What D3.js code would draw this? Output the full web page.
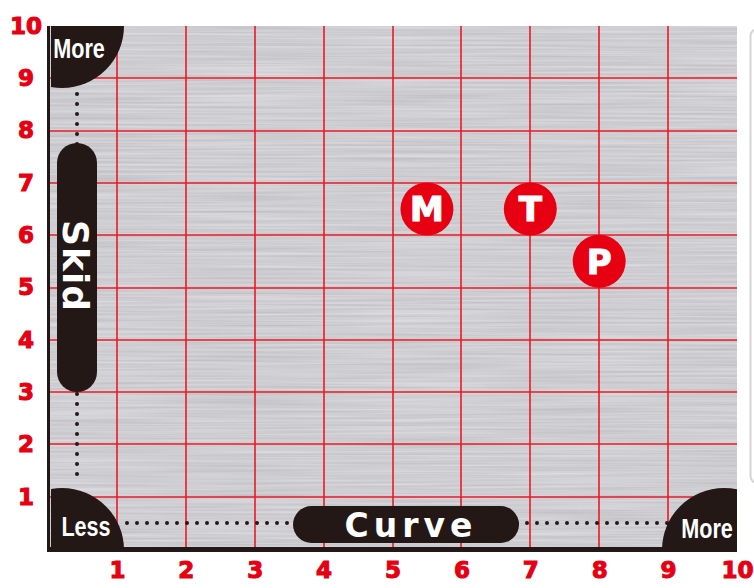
<!DOCTYPE html>
<html>
<head>
<meta charset="utf-8">
<script src="https://cdn.jsdelivr.net/npm/d3@7"></script>
<style>
  html, body { margin: 0; padding: 0; background: #fff; }
  svg { display: block; }
</style>
</head>
<body>
<svg></svg>
<script>
const [width, height] = [754, 588];

// chart data
const brands = ['M', 'T', 'P'];
const curveValues = [5.5, 7, 8];
const skidValues = [6.5, 6.5, 5.5];
const tickValues = [1, 2, 3, 4, 5, 6, 7, 8, 9, 10];
const gridValues = [1, 2, 3, 4, 5, 6, 7, 8, 9];
const cornerLabels = ['More', 'Less', 'More'];
const axisTitles = ['Skid', 'Curve'];

const red = '#e60012';
const dark = '#231815';

const svg = d3.select('svg').attr('width', width).attr('height', height);

const x = d3.scaleLinear().domain([0, 10]).range([48, 737]);
const y = d3.scaleLinear().domain([0, 10]).range([549, 26]);

const defs = svg.append('defs');

// brushed metal texture
const brush = defs.append('filter').attr('id', 'brush')
  .attr('x', 0).attr('y', 0).attr('width', 1).attr('height', 1)
  .attr('color-interpolation-filters', 'sRGB');
brush.append('feTurbulence')
  .attr('type', 'fractalNoise')
  .attr('baseFrequency', '0.006 0.45')
  .attr('numOctaves', 2)
  .attr('seed', 11);
brush.append('feColorMatrix')
  .attr('type', 'matrix')
  .attr('values', '0.15 0 0 0 0.735  0.15 0 0 0 0.735  0.15 0 0 0 0.75  0 0 0 0 1');

defs.append('clipPath').attr('id', 'plot')
  .append('rect')
  .attr('x', x(0) + 3).attr('y', y(10))
  .attr('width', x(10) - x(0) - 3).attr('height', y(0) - y(10));

// panel peeking in at the right
svg.append('rect')
  .attr('x', 750.5).attr('y', 29).attr('width', 30).attr('height', 454)
  .attr('rx', 7)
  .attr('fill', '#fff').attr('stroke', '#d4d4d4').attr('stroke-width', 2);

svg.append('rect')
  .attr('x', x(0)).attr('y', y(10))
  .attr('width', x(10) - x(0)).attr('height', y(0) - y(10))
  .attr('fill', '#cdcdd1')
  .attr('filter', 'url(#brush)');

// grid
const grid = svg.append('g')
  .attr('stroke', '#ea1a26').attr('stroke-width', 1.6);
grid.selectAll('.gx').data(gridValues).join('line')
  .attr('class', 'gx')
  .attr('x1', d => Math.round(x(d))).attr('x2', d => Math.round(x(d)))
  .attr('y1', y(10)).attr('y2', y(0));
grid.selectAll('.gy').data(gridValues).join('line')
  .attr('class', 'gy')
  .attr('x1', x(0)).attr('x2', x(10))
  .attr('y1', d => Math.round(y(d))).attr('y2', d => Math.round(y(d)));

// dotted guides
svg.append('line')
  .attr('x1', 77).attr('x2', 77).attr('y1', 94).attr('y2', 484)
  .attr('stroke', dark).attr('stroke-width', 4)
  .attr('stroke-linecap', 'round').attr('stroke-dasharray', '0 10');
svg.append('line')
  .attr('x1', 127).attr('x2', 670).attr('y1', 523).attr('y2', 523)
  .attr('stroke', dark).attr('stroke-width', 4)
  .attr('stroke-linecap', 'round').attr('stroke-dasharray', '0 10');

// corner quarter circles
const corners = [
  { cx: x(0) + 14, cy: y(10), lx: 79, ly: 48 },
  { cx: x(0) + 14, cy: y(0) + 1, lx: 86, ly: 526 },
  { cx: x(10) - 13, cy: y(0) + 1, lx: 707, ly: 528 }
];
const cornerG = svg.append('g').attr('clip-path', 'url(#plot)');
cornerG.selectAll('circle').data(corners).join('circle')
  .attr('cx', d => d.cx).attr('cy', d => d.cy).attr('r', 62)
  .attr('fill', dark);
svg.selectAll('.corner-label').data(corners).join('text')
  .attr('class', 'corner-label')
  .attr('transform', d => `translate(${d.lx}, ${d.ly}) scale(0.8, 1)`)
  .attr('dy', '0.36em')
  .attr('text-anchor', 'middle')
  .attr('fill', '#fff')
  .style('font-family', '"Liberation Sans", Arial, sans-serif')
  .style('font-weight', 'bold')
  .style('font-size', '27px')
  .text((d, i) => cornerLabels[i]);

// axis frame
svg.append('rect').attr('x', 47).attr('y', y(10))
  .attr('width', 3).attr('height', 552 - y(10)).attr('fill', dark);
svg.append('rect').attr('x', 47).attr('y', 547)
  .attr('width', x(10) - 47).attr('height', 5).attr('fill', dark);

// axis title pills
svg.append('rect')
  .attr('x', 57).attr('y', 143).attr('width', 40).attr('height', 249)
  .attr('rx', 20).attr('fill', dark);
svg.append('text')
  .attr('transform', 'translate(76,266) rotate(90)')
  .attr('dy', '0.36em')
  .attr('text-anchor', 'middle')
  .attr('fill', '#fff')
  .style('font-family', '"DejaVu Sans", sans-serif')
  .style('font-weight', 'bold')
  .style('font-size', '36px')
  .style('letter-spacing', '1px')
  .text(axisTitles[0]);

svg.append('rect')
  .attr('x', 293).attr('y', 506).attr('width', 226).attr('height', 37)
  .attr('rx', 18.5).attr('fill', dark);
svg.append('text')
  .attr('x', 411).attr('y', 525)
  .attr('dy', '0.36em')
  .attr('text-anchor', 'middle')
  .attr('fill', '#fff')
  .style('font-family', '"DejaVu Sans", sans-serif')
  .style('font-weight', 'bold')
  .style('font-size', '33px')
  .style('letter-spacing', '5px')
  .text(axisTitles[1]);

// tick labels
const tickFont = g => g.selectAll('text')
  .attr('fill', red)
  .attr('stroke', red).attr('stroke-width', 1.1)
  .style('font-family', '"DejaVu Sans", sans-serif')
  .style('font-weight', 'bold')
  .style('font-size', '23px');

svg.append('g')
  .attr('transform', `translate(0, ${y(0)})`)
  .call(d3.axisBottom(x).tickValues(tickValues).tickSize(0).tickPadding(13).tickFormat(d3.format('d')))
  .call(g => g.select('.domain').remove())
  .call(tickFont);

svg.append('g')
  .attr('transform', 'translate(26, 0)')
  .call(d3.axisLeft(y).tickValues(tickValues).tickSize(0).tickPadding(0).tickFormat(d3.format('d')))
  .call(g => g.select('.domain').remove())
  .call(tickFont)
  .call(g => g.selectAll('text').attr('x', 0).attr('text-anchor', 'middle'));

// brand markers
const markers = svg.append('g').selectAll('g').data(brands).join('g')
  .attr('transform', (d, i) => `translate(${x(curveValues[i])}, ${y(skidValues[i])})`);
markers.append('circle').attr('r', 26.5).attr('fill', red);
markers.append('text')
  .attr('dy', '0.36em')
  .attr('text-anchor', 'middle')
  .attr('fill', '#fff')
  .attr('stroke', '#fff').attr('stroke-width', 1.2)
  .style('font-family', '"DejaVu Sans", sans-serif')
  .style('font-weight', 'bold')
  .style('font-size', '34px')
  .text(d => d);
</script>
</body>
</html>
